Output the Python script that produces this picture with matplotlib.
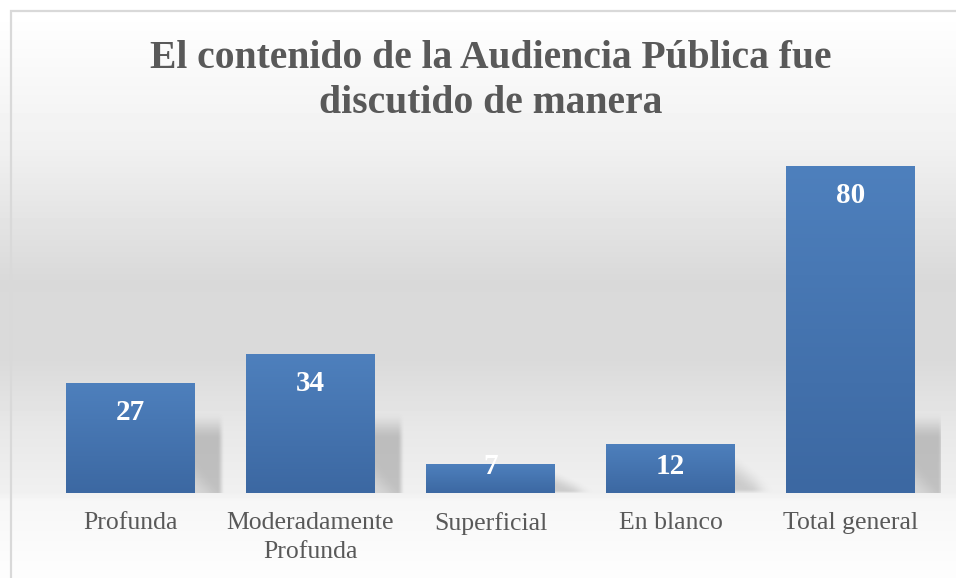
import numpy as np
import matplotlib
matplotlib.use("Agg")
import matplotlib.pyplot as plt
from matplotlib.patches import Rectangle
from matplotlib.colors import LinearSegmentedColormap

categories = ["Profunda", "Moderadamente\nProfunda", "Superficial", "En blanco", "Total general"]
values = [27, 34, 7, 12, 80]
title = "El contenido de la Audiencia Pública fue\ndiscutido de manera"

W, H = 956, 578
fig = plt.figure(figsize=(W / 100, H / 100), dpi=100)

# background gradient (figure level)
bg = fig.add_axes([0, 0, 1, 1], zorder=-10)
bg.set_axis_off()
ys = np.array([0, 12, 150, 280, 360, 430, 492, 500, 560, 578])
vs = np.array([255, 255, 240, 217, 218, 232, 240, 246, 252, 253]) / 255.0
yy = np.arange(H)
col = np.interp(yy, ys, vs)
img = np.repeat(col[:, None], 4, axis=1)
bg.imshow(img, cmap="gray", vmin=0, vmax=1, extent=[0, 1, 0, 1], aspect="auto", origin="upper")
bg.set_xlim(0, 1)
bg.set_ylim(0, 1)

# border
fig.patches.append(Rectangle((11 / W, -0.1), 1.2, (H - 11) / H + 0.1, transform=fig.transFigure,
                             fill=False, edgecolor="#d9d9d9", linewidth=1.6, zorder=5))

ax = fig.add_axes([40 / W, (H - 493) / H, (941 - 40) / W, 368 / H])
ax.patch.set_alpha(0)
for s in ax.spines.values():
    s.set_visible(False)

x = np.arange(len(values))
bw = 0.715
bars = ax.bar(x, values, width=bw, color="#4a78b4", zorder=3)

bar_cmap = LinearSegmentedColormap.from_list("b", ["#3c68a2", "#4e80bd"])
grad = np.linspace(1, 0, 256).reshape(-1, 1)

px_x = 1 / 180.5
px_y = 90 / 368

def smooth(t):
    t = np.clip(t, 0, 1)
    return t * t * (3 - 2 * t)

for rect, v in zip(bars, values):
    x0 = rect.get_x()
    x1 = x0 + rect.get_width()
    im = ax.imshow(grad, cmap=bar_cmap, extent=[x0, x1, 0, v], aspect="auto",
                   origin="upper", zorder=4)
    im.set_clip_path(rect)
    # soft shadow to the right of each bar
    bar_px = v / px_y
    sh_hp = min(bar_px * 0.8, 82)
    sh_wp = 30 if bar_px > 100 else 42
    n = 80
    gy = np.linspace(0, 1, n)[:, None]      # 0 bottom -> 1 top
    gx = np.linspace(0, 1, n)[None, :]      # 0 at bar edge -> 1 far right
    if bar_px > 100:
        a = smooth((1 - gy) / 0.35) * smooth((1 - gx) / 0.25) * (0.55 + 0.45 * smooth(gy / 0.4 + gx))
        amax = 0.42
    else:
        d = gy + 0.8 * gx
        a = smooth((1.0 - d) / 0.75) * smooth((1 - gx) / 0.6) * smooth(gy / 0.15 + 0.3)
        amax = 0.32
    shade = np.zeros((n, n, 4))
    shade[..., :3] = 0.5
    shade[..., 3] = amax * a
    ax.imshow(shade, extent=[x1, x1 + sh_wp * px_x, 0, sh_hp * px_y], aspect="auto",
              origin="lower", zorder=2)

for xi, v in zip(x, values):
    ly = max(v - 30 * px_y, 26 * px_y)
    ax.text(xi, ly, str(v), ha="center", va="center", color="white", fontsize=21,
            fontweight="bold", family="Liberation Serif", zorder=6)

ax.set_xlim(-0.5, len(values) - 0.5)
ax.set_ylim(0, 90)
ax.set_aspect("auto")
ax.set_yticks([])
ax.set_xticks(x)
ax.set_xticklabels(categories, fontsize=18.5, color="#595959", family="Liberation Serif",
                   linespacing=1.36)
ax.tick_params(axis="x", length=0, pad=14)

fig.text(491 / W, 1 - 81 / H, title, ha="center", va="center", fontsize=28.5, fontweight="bold",
         color="#595959", family="Liberation Serif", linespacing=1.3)

fig.savefig("out.png", dpi=100)
